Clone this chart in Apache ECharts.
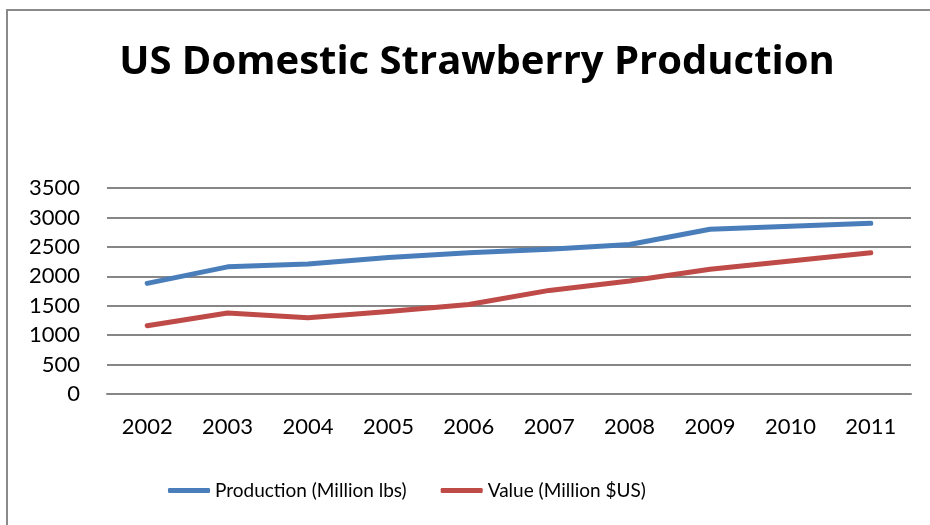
<!DOCTYPE html>
<html>
<head>
<meta charset="utf-8">
<script src="https://cdn.jsdelivr.net/npm/echarts@6/dist/echarts.min.js"></script>
<style>
html,body{margin:0;padding:0;background:#fff;}
#chart{width:930px;height:525px;}
</style>
</head>
<body>
<div id="chart"></div>
<script>
const years = ['2002','2003','2004','2005','2006','2007','2008','2009','2010','2011'];
const production = [1880, 2160, 2210, 2320, 2400, 2460, 2540, 2800, 2850, 2900];
const value = [1160, 1375, 1295, 1400, 1520, 1760, 1920, 2120, 2260, 2400];
const yTicks = { min: 0, max: 3500, interval: 500 };

const FONT = 'Lato';
const chart = echarts.init(document.getElementById('chart'));
chart.setOption({
  backgroundColor: '#fff',
  animation: false,
  graphic: [{
    type: 'rect',
    shape: { x: 7, y: 10, width: 1000, height: 600 },
    style: { fill: 'none', stroke: '#8a8a8a', lineWidth: 2 },
    silent: true
  }],
  title: {
    text: 'US Domestic Strawberry Production',
    left: 472,
    textAlign: 'center',
    top: 38,
    textStyle: { fontFamily: 'Open Sans', fontWeight: 'bold', fontSize: 40, color: '#000' }
  },
  legend: {
    bottom: 20,
    left: 163,
    icon: 'roundRect',
    itemWidth: 42,
    itemHeight: 5,
    itemGap: 34,
    textStyle: { fontFamily: FONT, fontSize: 19, color: '#000' },
    data: ['Production (Million lbs)', 'Value (Million $US)']
  },
  grid: { left: 107, right: 19, top: 188, bottom: 131, containLabel: false },
  xAxis: {
    type: 'category',
    data: years,
    boundaryGap: true,
    axisLine: { show: true, lineStyle: { color: '#868686', width: 2 } },
    axisTick: { show: false },
    axisLabel: { fontFamily: FONT, fontSize: 22, color: '#000', margin: 22 }
  },
  yAxis: {
    type: 'value',
    min: yTicks.min, max: yTicks.max, interval: yTicks.interval,
    axisLine: { show: false },
    axisTick: { show: false },
    axisLabel: { fontFamily: FONT, fontSize: 22, color: '#000', margin: 27, formatter: v => String(v) },
    splitLine: { lineStyle: { color: '#868686', width: 2 } }
  },
  series: [
    {
      name: 'Production (Million lbs)',
      type: 'line',
      data: production,
      symbol: 'none',
      color: '#4a7ebb',
      lineStyle: { width: 5, color: '#4a7ebb', cap: 'round', join: 'round' }
    },
    {
      name: 'Value (Million $US)',
      type: 'line',
      data: value,
      symbol: 'none',
      color: '#be4b48',
      lineStyle: { width: 5, color: '#be4b48', cap: 'round', join: 'round' }
    }
  ]
});
</script>
</body>
</html>
